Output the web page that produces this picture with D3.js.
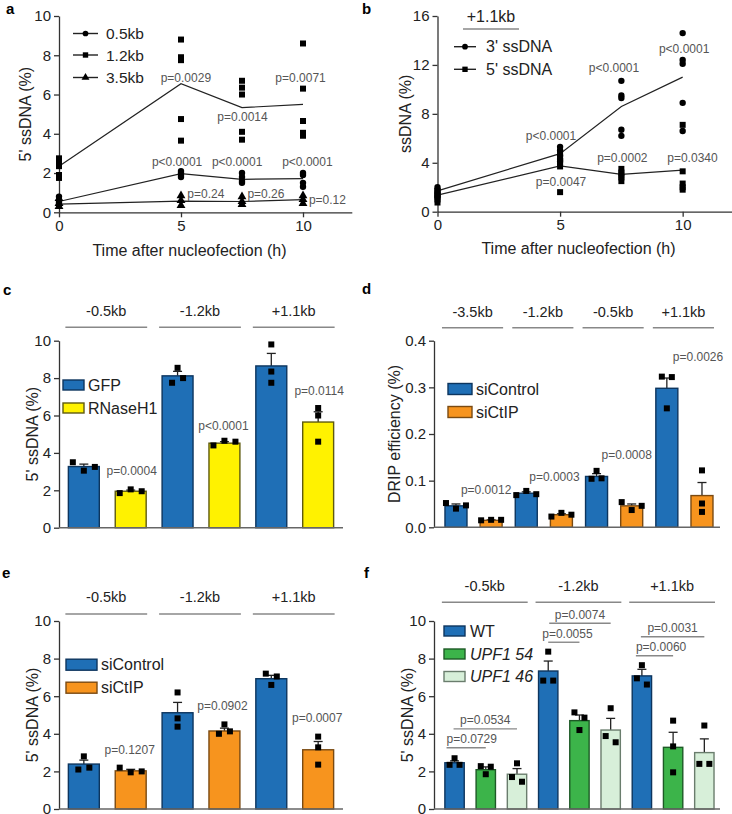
<!DOCTYPE html>
<html><head><meta charset="utf-8">
<script src="https://cdn.jsdelivr.net/npm/d3@7"></script>
<style>body{margin:0;background:#fff}svg{display:block}</style>
</head><body><svg id="chart" width="732" height="814"></svg>
<script>
// ================= DATA =================
// ---- Panel a : 5' ssDNA time course ----
const timesA = [0, 5, 7.5, 10];
const xTicksA = [0, 5, 10];
const yTicksA = [0, 2, 4, 6, 8, 10];
const seriesA = ["0.5kb", "1.2kb", "3.5kb"];
const meanA_05 = [0.55, 1.97, 1.68, 1.72];
const meanA_12 = [2.35, 6.55, 5.33, 5.5];
const meanA_35 = [0.42, 0.57, 0.55, 0.65];
const repsA_05 = [[0.8, 0.6, 0.5, 0.4], [2.1, 2.0, 1.9, 1.8], [2.0, 1.8, 1.6, 1.5], [2.0, 1.9, 1.5, 1.3]];
const repsA_12 = [[2.75, 2.6, 2.35, 1.9, 1.75], [8.8, 7.9, 7.75, 4.75, 3.65], [6.7, 6.35, 6.0, 4.1, 3.7], [8.6, 6.3, 4.65, 4.05, 3.9]];
const repsA_35 = [[0.7, 0.45, 0.3], [0.85, 0.6, 0.35], [0.8, 0.55, 0.4], [0.85, 0.65, 0.45]];
const pTextA = ["p=0.0029", "p=0.0014", "p=0.0071", "p<0.0001", "p<0.0001", "p<0.0001", "p=0.24", "p=0.26", "p=0.12"];

// ---- Panel b : +1.1kb 3'/5' ssDNA ----
const timesB = [0, 5, 7.5, 10];
const xTicksB = [0, 5, 10];
const yTicksB = [0, 4, 8, 12, 16];
const seriesB = ["3' ssDNA", "5' ssDNA"];
const meanB_3 = [1.7, 4.75, 8.6, 11.0];
const meanB_5 = [1.35, 3.75, 3.05, 3.4];
const repsB_3 = [[2.0, 1.8, 1.6, 1.4, 1.2], [5.3, 5.0, 4.6, 4.3, 4.1], [10.7, 9.5, 9.3, 6.7, 6.2], [14.6, 12.4, 12.1, 8.9, 6.6]];
const repsB_5 = [[1.7, 1.4, 1.2, 1.0, 0.75], [4.9, 4.4, 4.0, 3.7, 1.6], [3.5, 3.2, 3.0, 2.8, 2.5], [7.1, 3.3, 2.3, 2.0, 1.8]];
const pTextB = ["p<0.0001", "p<0.0001", "p<0.0001", "p=0.0047", "p=0.0002", "p=0.0340"];

// ---- Panel c ----
const groupsC = ["-0.5kb", "-1.2kb", "+1.1kb"];
const seriesC = ["GFP", "RNaseH1"];
const yTicksC = [0, 2, 4, 6, 8, 10];
const meanC = [[3.27, 1.95], [8.12, 4.52], [8.65, 5.65]];
const semC = [[0.13, 0.06], [0.24, 0.08], [0.67, 0.55]];
const repsC = [[[3.5, 3.05, 3.25], [1.85, 2.05, 1.95]], [[7.75, 8.55, 8.0], [4.4, 4.65, 4.6]], [[9.8, 8.35, 7.75], [6.4, 6.0, 4.6]]];
const pTextC = ["p=0.0004", "p<0.0001", "p=0.0114"];

// ---- Panel d ----
const groupsD = ["-3.5kb", "-1.2kb", "-0.5kb", "+1.1kb"];
const seriesD = ["siControl", "siCtIP"];
const yTicksD = [0, 0.1, 0.2, 0.3, 0.4];
const meanD = [[0.046, 0.015], [0.073, 0.027], [0.109, 0.046], [0.298, 0.068]];
const semD = [[0.004, 0.001], [0.003, 0.002], [0.006, 0.004], [0.022, 0.028]];
const repsD = [[[0.052, 0.040, 0.047], [0.015, 0.016, 0.016]], [[0.069, 0.078, 0.071], [0.023, 0.031, 0.027]], [[0.104, 0.121, 0.105], [0.054, 0.037, 0.046]], [[0.323, 0.255, 0.322], [0.122, 0.051, 0.033]]];
const pTextD = ["p=0.0012", "p=0.0003", "p=0.0008", "p=0.0026"];

// ---- Panel e ----
const groupsE = ["-0.5kb", "-1.2kb", "+1.1kb"];
const seriesE = ["siControl", "siCtIP"];
const yTicksE = [0, 2, 4, 6, 8, 10];
const meanE = [[2.39, 2.03], [5.12, 4.15], [6.93, 3.15]];
const semE = [[0.21, 0.08], [0.55, 0.15], [0.18, 0.44]];
const repsE = [[[2.1, 2.8, 2.2], [2.2, 1.95, 2.0]], [[6.2, 4.82, 4.38], [4.0, 4.5, 4.13]], [[7.2, 6.6, 7.05], [3.85, 3.28, 2.36]]];
const pTextE = ["p=0.1207", "p=0.0902", "p=0.0007"];

// ---- Panel f ----
const groupsF = ["-0.5kb", "-1.2kb", "+1.1kb"];
const seriesF = ["WT", "UPF1 54", "UPF1 46"];
const yTicksF = [0, 2, 4, 6, 8, 10];
const meanF = [[2.46, 2.09, 1.85], [7.34, 4.7, 4.2], [7.08, 3.28, 3.0]];
const semF = [[0.1, 0.15, 0.3], [0.53, 0.3, 0.62], [0.35, 0.8, 0.73]];
const repsF = [[[2.35, 2.7, 2.35], [2.28, 1.85, 2.25], [2.43, 1.7, 1.45]], [[6.83, 8.37, 6.83], [5.14, 4.86, 4.2], [5.36, 3.88, 3.55]], [[7.65, 6.95, 6.62], [4.7, 3.33, 1.95], [4.44, 2.4, 2.4]]];
const pTextF = ["p=0.0729", "p=0.0534", "p=0.0055", "p=0.0074", "p=0.0060", "p=0.0031"];

// ================= LAYOUT / STYLE =================
const FONT = '"Liberation Sans", Arial, Helvetica, sans-serif';
const INK = "#222";
const PGRAY = "#555";
const svg = d3.select("#chart").attr("font-family", FONT);

function styleAxis(sel, fs) {
  sel.select(".domain").attr("stroke", "#333").attr("stroke-width", 1.3);
  sel.selectAll(".tick line").attr("stroke", "#333").attr("stroke-width", 1.3);
  sel.selectAll(".tick text").attr("font-size", fs || 15).attr("fill", INK).attr("font-family", FONT);
}
function pLabel(g, x, y, t, anchor) {
  g.append("text").attr("x", x).attr("y", y).attr("text-anchor", anchor || "middle")
    .attr("dominant-baseline", "central").attr("font-size", 12).attr("fill", PGRAY).text(t);
}
function yTitle(g, x, y, t) {
  g.append("text").attr("transform", `translate(${x},${y}) rotate(-90)`).attr("text-anchor", "middle")
    .attr("dominant-baseline", "central").attr("font-size", 16).attr("fill", INK).text(t);
}
function panelLetter(x, y, t) {
  svg.append("text").attr("x", x).attr("y", y).attr("font-size", 15).attr("font-weight", "bold").attr("fill", "#000").text(t);
}

// ---------- time-course panels ----------
function timePanel(cfg) {
  const g = svg.append("g");
  const x = d3.scaleLinear().domain([0, 12]).range(cfg.xRange);
  const y = d3.scaleLinear().domain(cfg.yDomain).range(cfg.yRange);
  g.append("g").attr("transform", `translate(${x(0)},0)`)
    .call(d3.axisLeft(y).tickValues(cfg.yTicks).tickSize(5).tickSizeOuter(0).tickPadding(3)).call(s => styleAxis(s));
  g.append("g").attr("transform", `translate(0,${y(0)})`)
    .call(d3.axisBottom(x).tickValues(cfg.xTicks).tickSize(5).tickSizeOuter(0).tickPadding(3)).call(s => styleAxis(s));
  cfg.series.forEach(s => {
    g.append("path").datum(s.mean)
      .attr("d", d3.line().x((d, i) => x(cfg.times[i])).y(d => y(d)))
      .attr("fill", "none").attr("stroke", INK).attr("stroke-width", 1.2);
    s.reps.forEach((arr, i) => arr.forEach(v => {
      g.append("path").attr("d", d3.symbol(s.symbol, s.size)())
        .attr("transform", `translate(${x(cfg.times[i])},${y(v)})`).attr("fill", "#000");
    }));
  });
  cfg.pText.forEach((t, i) => pLabel(g, x(cfg.pPos[i][0]), y(cfg.pPos[i][1]), t));
  // legend
  cfg.series.forEach((s, i) => {
    const ly = cfg.legend.y[i];
    g.append("line").attr("x1", cfg.legend.x1).attr("x2", cfg.legend.x2).attr("y1", ly).attr("y2", ly)
      .attr("stroke", INK).attr("stroke-width", 1.4);
    g.append("path").attr("d", d3.symbol(s.symbol, s.size * 0.8)())
      .attr("transform", `translate(${(cfg.legend.x1 + cfg.legend.x2) / 2},${ly})`).attr("fill", "#000");
    g.append("text").attr("x", cfg.legend.tx).attr("y", ly).attr("dominant-baseline", "central")
      .attr("font-size", cfg.legend.fs).attr("fill", INK).text(s.name);
  });
  g.append("text").attr("x", cfg.xTitle[0]).attr("y", cfg.xTitle[1]).attr("text-anchor", "middle")
    .attr("dominant-baseline", "central").attr("font-size", 16).attr("fill", INK).text("Time after nucleofection (h)");
  yTitle(g, cfg.yTitle[0], (cfg.yRange[0] + cfg.yRange[1]) / 2, cfg.yTitle[1]);
  return g;
}

timePanel({
  xRange: [59, 351.8], yDomain: [0, 10], yRange: [212.3, 16], yTicks: yTicksA, xTicks: xTicksA, times: timesA,
  series: [
    { name: seriesA[0], mean: meanA_05, reps: repsA_05, symbol: d3.symbolCircle, size: 32 },
    { name: seriesA[1], mean: meanA_12, reps: repsA_12, symbol: d3.symbolSquare, size: 36 },
    { name: seriesA[2], mean: meanA_35, reps: repsA_35, symbol: d3.symbolTriangle, size: 34 }
  ],
  pText: pTextA,
  pPos: [[5.2, 6.85], [7.52, 4.87], [9.9, 6.85], [4.84, 2.56], [7.3, 2.56], [10.18, 2.56], [6.02, 0.93], [8.48, 0.93], [11.0, 0.63]],
  legend: { x1: 73, x2: 98, tx: 106, y: [33.5, 55, 77.5], fs: 15.5 },
  xTitle: [189.5, 250], yTitle: [25, "5' ssDNA (%)"]
});

const gb = timePanel({
  xRange: [437.5, 731.7], yDomain: [0, 16], yRange: [211.7, 16], yTicks: yTicksB, xTicks: xTicksB, times: timesB,
  series: [
    { name: seriesB[0], mean: meanB_3, reps: repsB_3, symbol: d3.symbolCircle, size: 32 },
    { name: seriesB[1], mean: meanB_5, reps: repsB_5, symbol: d3.symbolSquare, size: 36 }
  ],
  pText: pTextB,
  pPos: [[4.63, 6.19], [7.2, 11.75], [10.06, 13.3], [5.04, 2.43], [7.54, 4.39], [10.4, 4.39]],
  legend: { x1: 454, x2: 476, tx: 486, y: [46.7, 69.3], fs: 16 },
  xTitle: [578.5, 248.3], yTitle: [405.5, "ssDNA (%)"]
});
gb.append("text").attr("x", 491).attr("y", 16).attr("text-anchor", "middle").attr("dominant-baseline", "central")
  .attr("font-size", 16).attr("fill", INK).text("+1.1kb");
gb.append("line").attr("x1", 463).attr("x2", 519).attr("y1", 29).attr("y2", 29).attr("stroke", "#888").attr("stroke-width", 1.5);

// ---------- bar panels ----------
function barPanel(cfg) {
  const g = svg.append("g");
  const keys = [];
  cfg.groups.forEach((gr, gi) => cfg.series.forEach((s, si) => keys.push(gi + "_" + si)));
  const x = d3.scaleBand().domain(keys).range(cfg.xRange).paddingInner(cfg.pi).paddingOuter(cfg.po).align(cfg.align);
  const y = d3.scaleLinear().domain(cfg.yDomain).range(cfg.yRange);
  const bw = x.bandwidth();
  const cx = (gi, si) => x(gi + "_" + si) + bw / 2;

  g.append("g").attr("transform", `translate(${cfg.xRange[0]},0)`)
    .call(d3.axisLeft(y).tickValues(cfg.yTicks).tickSize(5).tickSizeOuter(0).tickPadding(3)
      .tickFormat(cfg.tickFmt || d3.format("d"))).call(s => styleAxis(s));

  cfg.groups.forEach((gr, gi) => cfg.series.forEach((s, si) => {
    const m = cfg.mean[gi][si], e = cfg.sem[gi][si], c = cx(gi, si);
    g.append("line").attr("x1", c).attr("x2", c).attr("y1", y(m)).attr("y2", y(m + e)).attr("stroke", INK).attr("stroke-width", 1.3);
    g.append("line").attr("x1", c - 4.5).attr("x2", c + 4.5).attr("y1", y(m + e)).attr("y2", y(m + e)).attr("stroke", INK).attr("stroke-width", 1.3);
    g.append("rect").attr("x", x(gi + "_" + si)).attr("y", y(m)).attr("width", bw).attr("height", y(0) - y(m))
      .attr("fill", cfg.fills[si]).attr("stroke", cfg.strokes[si]).attr("stroke-width", 1.4);
    // replicate points: clusters of nearby values spread horizontally
    const reps = cfg.reps[gi][si];
    const py = reps.map(v => y(v));
    const cluster = reps.map((v, i) => i);
    for (let i = 0; i < reps.length; i++) for (let j = 0; j < reps.length; j++)
      if (Math.abs(py[i] - py[j]) < 6.5) { const a = cluster[i], b = cluster[j]; const mn = Math.min(a, b); cluster.forEach((c2, k) => { if (c2 === a || c2 === b) cluster[k] = mn; }); }
    reps.forEach((v, i) => {
      const members = cluster.map((c2, k) => c2 === cluster[i] ? k : -1).filter(k => k >= 0);
      const idx = members.indexOf(i), n = members.length;
      const off = (idx - (n - 1) / 2) * cfg.spread;
      g.append("rect").attr("x", c + off - 3).attr("y", py[i] - 3).attr("width", 6).attr("height", 6).attr("fill", "#000");
    });
  }));
  // baseline
  g.append("line").attr("x1", cfg.xRange[0]).attr("x2", cfg.xRange[1]).attr("y1", y(0)).attr("y2", y(0)).attr("stroke", "#666").attr("stroke-width", 1.4);

  // group headers
  const top = cfg.yRange[1];
  cfg.groups.forEach((gr, gi) => {
    const x0 = x(gi + "_0") - 3, x1 = x(gi + "_" + (cfg.series.length - 1)) + bw + 1;
    g.append("line").attr("x1", x0).attr("x2", x1).attr("y1", top + cfg.lineDy).attr("y2", top + cfg.lineDy).attr("stroke", "#888").attr("stroke-width", 1.5);
    g.append("text").attr("x", (x0 + x1) / 2).attr("y", top + cfg.labelDy).attr("text-anchor", "middle")
      .attr("dominant-baseline", "central").attr("font-size", 14.5).attr("fill", INK).text(gr);
  });
  // p labels
  (cfg.pAnchors || []).forEach((a, i) => pLabel(g, cx(a.g, a.s) + (a.dx || 0), y(a.v), cfg.pText[i]));
  // legend
  cfg.series.forEach((s, si) => {
    const ly = cfg.legend.y[si];
    g.append("rect").attr("x", cfg.legend.x).attr("y", ly - cfg.legend.h / 2).attr("width", cfg.legend.w).attr("height", cfg.legend.h)
      .attr("fill", cfg.fills[si]).attr("stroke", cfg.strokes[si]).attr("stroke-width", 1.4);
    g.append("text").attr("x", cfg.legend.tx).attr("y", ly).attr("dominant-baseline", "central").attr("font-size", 16)
      .attr("font-style", cfg.italic && cfg.italic[si] ? "italic" : "normal").attr("fill", INK).text(s);
  });
  yTitle(g, cfg.yTitle[0], (cfg.yRange[0] + cfg.yRange[1]) / 2, cfg.yTitle[1]);
  return { g, x, y, cx };
}

const BLUE = "#1f6fb6", BLUE_S = "#0d355e";
const YEL = "#fff200", YEL_S = "#5e5a10";
const ORA = "#f7941e", ORA_S = "#7a4a12";
const GRN = "#3cb44a", GRN_S = "#1d5a26";
const LGR = "#d7efd9", LGR_S = "#6a7d6d";

barPanel({
  groups: groupsC, series: seriesC, mean: meanC, sem: semC, reps: repsC, yTicks: yTicksC,
  xRange: [59, 343], pi: 0.34, po: 0.2, align: 0.5, yDomain: [0, 10], yRange: [527.7, 340.7],
  fills: [BLUE, YEL], strokes: [BLUE_S, YEL_S], spread: 11,
  lineDy: -13.4, labelDy: -30,
  pText: pTextC, pAnchors: [{ g: 0, s: 1, v: 3.03, dx: 1 }, { g: 1, s: 1, v: 5.45, dx: -1 }, { g: 2, s: 1, v: 7.31, dx: 1 }],
  legend: { x: 63, w: 21, h: 10, tx: 88, y: [385, 408] },
  yTitle: [32, "5' ssDNA (%)"]
});

barPanel({
  groups: groupsD, series: seriesD, mean: meanD, sem: semD, reps: repsD, yTicks: yTicksD, tickFmt: d3.format(".1f"),
  xRange: [434, 720], pi: 0.374, po: 0.256, align: 0.61, yDomain: [0, 0.4], yRange: [527.3, 340.7],
  fills: [BLUE, ORA], strokes: [BLUE_S, ORA_S], spread: 10,
  lineDy: -13, labelDy: -29,
  pText: pTextD, pAnchors: [{ g: 0, s: 1, v: 0.080, dx: -5 }, { g: 1, s: 1, v: 0.1085, dx: -7 }, { g: 2, s: 1, v: 0.155, dx: -5 }, { g: 3, s: 1, v: 0.366, dx: -4 }],
  legend: { x: 448, w: 24, h: 11, tx: 476, y: [389, 412] },
  yTitle: [394.5, "DRIP efficiency (%)"]
});

barPanel({
  groups: groupsE, series: seriesE, mean: meanE, sem: semE, reps: repsE, yTicks: yTicksE,
  xRange: [59, 343], pi: 0.34, po: 0.2, align: 0.5, yDomain: [0, 10], yRange: [809, 621],
  fills: [BLUE, ORA], strokes: [BLUE_S, ORA_S], spread: 11,
  lineDy: -7, labelDy: -23.7,
  pText: pTextE, pAnchors: [{ g: 0, s: 1, v: 3.14, dx: -1 }, { g: 1, s: 1, v: 5.48, dx: -2 }, { g: 2, s: 1, v: 4.86, dx: -1 }],
  legend: { x: 66, w: 31, h: 11, tx: 101, y: [664.7, 687.7] },
  yTitle: [32.5, "5' ssDNA (%)"]
});

const pf = barPanel({
  groups: groupsF, series: seriesF, mean: meanF, sem: semF, reps: repsF, yTicks: yTicksF,
  xRange: [434, 720], pi: 0.38, po: 0.27, align: 0.645, yDomain: [0, 10], yRange: [809, 621],
  fills: [BLUE, GRN, LGR], strokes: [BLUE_S, GRN_S, LGR_S], spread: 10, italic: [false, true, true],
  lineDy: -18.7, labelDy: -35.3,
  pText: [], pAnchors: [],
  legend: { x: 444, w: 21, h: 10, tx: 470, y: [631, 654, 676.5] },
  yTitle: [407.5, "5' ssDNA (%)"]
});
// comparison brackets for panel f
const bracketsF = [
  { g: 0, to: 1, v: 3.26, dx1: -8, anchor: "start" },
  { g: 0, to: 2, v: 4.26, dx1: -1, anchor: "middle" },
  { g: 1, to: 1, v: 8.87, dx1: 0, anchor: "start", tdx: -6 },
  { g: 1, to: 2, v: 9.88, dx1: 1, anchor: "middle" },
  { g: 2, to: 1, v: 8.15, dx1: -6, anchor: "start" },
  { g: 2, to: 2, v: 9.16, dx1: -1, anchor: "middle" }
];
bracketsF.forEach((b, i) => {
  const x1 = pf.cx(b.g, 0) + b.dx1, x2 = pf.cx(b.g, b.to), yy = pf.y(b.v);
  pf.g.append("line").attr("x1", x1).attr("x2", x2).attr("y1", yy).attr("y2", yy).attr("stroke", "#888").attr("stroke-width", 1.4);
  const tx = b.anchor === "start" ? x1 + (b.tdx || 0) : (x1 + x2) / 2;
  pLabel(pf.g, tx, yy - 8.5, pTextF[i], b.anchor);
});

// panel letters
panelLetter(6, 14, "a");
panelLetter(362, 14, "b");
panelLetter(3, 295, "c");
panelLetter(362, 294, "d");
panelLetter(2, 578, "e");
panelLetter(364, 578, "f");
</script>
</body></html>
